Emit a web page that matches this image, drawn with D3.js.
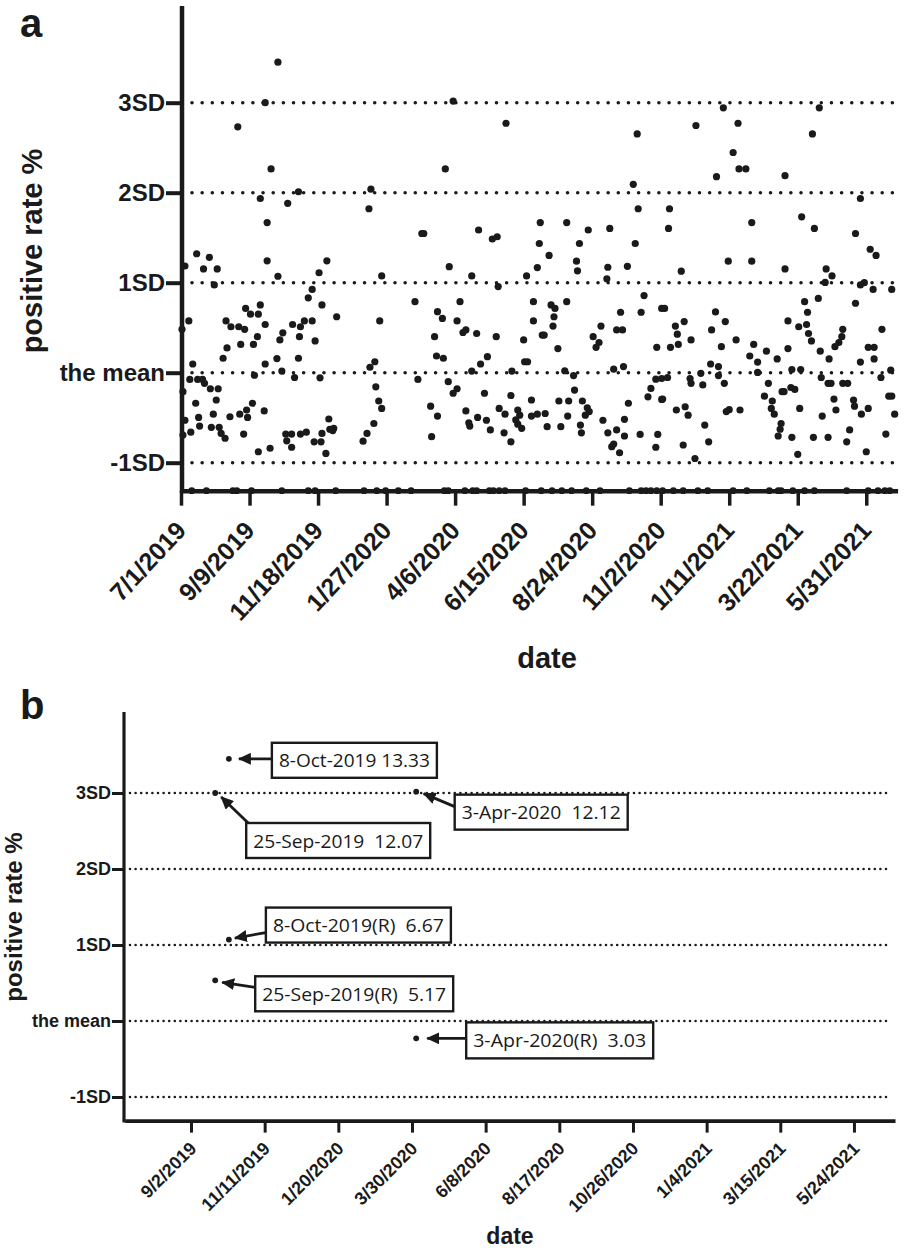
<!DOCTYPE html>
<html><head><meta charset="utf-8">
<script src="https://cdn.jsdelivr.net/npm/d3@7"></script>
<style>body{margin:0;background:#fff} svg{display:block}</style>
</head><body>
<svg id="chart" width="912" height="1250"></svg>
<script>
// ---------- DATA ----------
const MEAN = 3.67, SD = 2.8;               // positive rate %: mean and standard deviation
const sdLevels = [-1, 0, 1, 2, 3];
const sdLabels = ["-1SD", "the mean", "1SD", "2SD", "3SD"];
const startDate = "7/1/2019", endDate = "7/2/2021";
const ticksA = ["7/1/2019","9/9/2019","11/18/2019","1/27/2020","4/6/2020","6/15/2020","8/24/2020","11/2/2020","1/11/2021","3/22/2021","5/31/2021"];
const ticksB = ["9/2/2019","11/11/2019","1/20/2020","3/30/2020","6/8/2020","8/17/2020","10/26/2020","1/4/2021","3/15/2021","5/24/2021"];

// [days since 7/1/2019, positive rate %]
const jul2019toOct2019 = [[99,13.33],[86,12.07],[58,11.32],[92,10.01],[81,9.09],[109,8.94],[120,9.30],[88,8.34],[4,6.99],[16,7.37],[23,6.90],[29,7.26],[37,6.90],[34,6.40],[88,7.15],[99,6.67],[1,5.02],[8,5.28],[46,5.28],[51,5.10],[59,5.10],[65,5.02],[66,5.67],[71,5.49],[79,5.49],[81,5.78],[86,5.17],[78,4.79],[47,4.44],[43,4.12],[61,4.55],[74,4.55],[98,4.11],[101,4.69],[104,4.91],[114,5.17],[122,5.10],[121,4.79],[120,4.12],[12,3.94],[9,3.46],[17,3.46],[22,3.46],[24,3.34],[30,3.17],[38,3.17],[2,3.08],[75,3.59],[86,3.94],[103,3.72],[116,3.52],[15,2.72],[36,2.82],[18,2.28],[33,2.38],[4,2.19],[50,2.30],[60,2.38],[67,2.51],[68,2.28],[73,2.72],[85,2.48],[2,1.73],[10,1.82],[19,2.01],[31,1.97],[39,1.97],[41,1.78],[45,1.63],[64,1.76],[79,1.21],[91,1.32],[107,1.76],[113,1.76],[108,1.55],[113,1.35],[122,1.76]];
const nov2019toFeb2020 = [[194,9.38],[192,8.77],[246,8.00],[149,7.15],[141,6.78],[134,6.26],[130,6.00],[144,5.78],[159,5.41],[205,6.68],[203,5.28],[239,5.88],[126,5.28],[134,5.28],[137,4.66],[142,3.51],[193,3.84],[198,4.01],[199,3.23],[202,2.79],[205,2.56],[197,2.09],[190,1.78],[186,1.54],[242,3.46],[128,1.82],[136,1.52],[143,1.52],[144,1.78],[151,2.23],[152,1.91],[156,1.94],[155,1.87],[148,1.16]];
const mar2020toJun2020 = [[278,12.12],[332,11.43],[270,10.01],[248,8.00],[304,8.11],[318,7.83],[323,7.90],[367,8.34],[366,7.69],[274,6.97],[297,6.68],[324,6.35],[353,6.68],[364,6.94],[285,5.88],[360,5.88],[360,5.28],[369,4.84],[262,5.57],[267,5.36],[282,5.28],[288,4.92],[291,5.00],[302,4.89],[322,4.79],[350,4.69],[259,4.79],[261,4.19],[268,4.12],[306,3.94],[313,4.17],[351,4.01],[354,4.01],[297,3.72],[338,3.72],[273,3.39],[282,3.17],[278,3.03],[310,3.03],[337,2.96],[358,2.82],[255,2.63],[262,2.32],[256,1.68],[291,2.48],[303,2.28],[312,2.19],[295,2.01],[294,2.11],[316,1.89],[325,2.56],[331,2.38],[344,2.51],[346,2.35],[342,2.20],[344,2.07],[348,1.94],[330,1.80],[337,1.52],[358,2.32],[364,2.38]];
const jul2020toOct2020 = [[466,11.10],[462,9.53],[467,8.77],[394,8.34],[416,8.11],[438,8.16],[407,7.69],[464,7.69],[376,7.32],[404,7.14],[405,6.84],[436,6.95],[456,6.98],[435,6.59],[473,6.07],[378,5.78],[382,5.67],[394,5.88],[381,5.41],[380,5.12],[371,4.84],[385,4.42],[449,5.55],[470,5.55],[491,5.67],[429,5.12],[445,5.00],[451,5.00],[421,4.79],[427,4.61],[424,4.46],[486,4.46],[392,3.73],[401,3.58],[442,3.78],[452,3.86],[485,3.47],[480,3.18],[477,2.92],[491,2.84],[402,3.13],[386,2.79],[396,2.79],[410,2.79],[415,2.58],[417,2.46],[413,2.35],[395,2.32],[457,2.72],[372,2.40],[374,1.99],[388,1.99],[408,2.04],[409,1.80],[431,2.19],[436,1.80],[445,1.89],[453,2.22],[453,1.70],[442,1.45],[440,1.37],[448,1.18],[469,1.75],[487,1.75],[485,1.35]];
const nov2020toFeb2021 = [[554,11.91],[526,11.36],[569,11.43],[564,10.52],[570,10.01],[577,10.01],[547,9.77],[499,8.77],[498,8.16],[583,8.34],[559,7.14],[583,7.14],[511,6.83],[494,5.67],[505,5.12],[507,4.87],[514,5.26],[521,4.69],[508,4.55],[500,4.46],[546,5.56],[556,5.26],[542,5.00],[552,4.48],[567,4.69],[585,4.55],[598,4.34],[581,4.19],[589,4.00],[589,3.68],[609,4.10],[541,3.94],[549,3.86],[549,3.58],[491,3.49],[497,3.52],[520,3.49],[521,3.34],[531,3.65],[533,3.29],[555,3.34],[600,3.34],[614,3.08],[492,2.85],[596,2.94],[604,2.79],[603,2.56],[606,2.38],[506,2.51],[515,2.61],[518,2.35],[557,2.46],[560,2.52],[571,2.51],[535,2.04],[513,1.42],[539,1.52],[525,1.00],[613,2.09],[612,1.91],[610,1.70]];
const mar2021toJun2021 = [[652,11.91],[645,11.10],[617,9.80],[694,9.09],[634,8.52],[647,8.16],[689,8.00],[704,7.51],[710,7.32],[617,6.90],[659,6.90],[665,6.68],[658,6.48],[694,6.40],[698,6.47],[707,6.26],[726,6.26],[637,5.88],[651,5.98],[640,5.55],[689,5.83],[620,5.28],[631,5.10],[639,5.17],[641,4.89],[644,4.66],[676,5.02],[675,4.79],[672,4.61],[668,4.48],[716,5.02],[620,4.42],[653,4.34],[662,4.10],[702,4.46],[708,4.46],[708,4.10],[694,4.00],[624,3.77],[633,3.77],[654,3.52],[725,3.75],[715,3.52],[661,3.34],[664,3.34],[676,3.34],[681,3.34],[616,3.08],[623,3.21],[627,3.15],[667,2.85],[687,2.82],[688,2.63],[632,2.56],[669,2.51],[702,2.56],[695,2.38],[723,2.94],[726,2.94],[729,2.38],[655,2.32],[624,1.66],[646,1.66],[661,1.66],[683,1.89],[680,1.52],[720,1.76],[630,1.13],[700,1.21]];
// days with a positive rate of 0 %
const zeroDays = [11,26,53,57,72,103,130,137,158,187,200,209,222,235,269,273,290,298,302,315,319,325,331,352,368,379,389,399,414,428,458,470,475,480,486,492,503,513,528,538,564,578,601,610,613,625,637,647,680,702,712,719,724];

// panel b: outliers above 3SD and their retests (R)
const outlierDates = ["10/8/2019","9/25/2019","4/3/2020","10/8/2019","9/25/2019","4/3/2020"];
const outlierRates = [13.33, 12.07, 12.12, 6.67, 5.17, 3.03];
const outlierLabels = ["8-Oct-2019 13.33","25-Sep-2019  12.07","3-Apr-2020  12.12","8-Oct-2019(R)  6.67","25-Sep-2019(R)  5.17","3-Apr-2020(R)  3.03"];

// ---------- LAYOUT ----------
const FONT = "'Liberation Sans', Arial, Helvetica, sans-serif";
const INK = "#1a1a1a";
const svg = d3.select("#chart");
const parse = d3.timeParse("%m/%d/%Y");
const t0 = parse(startDate);
const domain = [t0, parse(endDate)];
const toDate = d => d3.timeDay.offset(t0, d);
const allPoints = [].concat(jul2019toOct2019, nov2019toFeb2020, mar2020toJun2020, jul2020toOct2020, nov2020toFeb2021, mar2021toJun2021);
const levelVals = sdLevels.map(k => MEAN + k * SD);

// ====== PANEL A ======
const xA = d3.scaleTime().domain(domain).range([181, 897.6]);
const yA = d3.scaleLinear().domain([MEAN - SD, MEAN + 3 * SD]).range([462.7, 102.7]);
const gA = svg.append("g");

gA.append("text").attr("x", 20).attr("y", 37).attr("font-family", FONT).attr("font-weight", "bold")
  .attr("font-size", 40).attr("fill", INK).text("a");

gA.selectAll("line.ref").data(levelVals).join("line").attr("class", "ref")
  .attr("x1", 192).attr("x2", 894).attr("y1", d => yA(d)).attr("y2", d => yA(d))
  .attr("stroke", INK).attr("stroke-width", 3.6).attr("stroke-linecap", "round")
  .attr("stroke-dasharray", "0,10.15");

gA.selectAll("circle.pt").data(allPoints).join("circle").attr("class", "pt")
  .attr("cx", d => xA(toDate(d[0]))).attr("cy", d => yA(d[1])).attr("r", 3.6).attr("fill", INK);

// x axis
const axA = gA.append("g").attr("transform", `translate(0,${yA(0)})`)
  .call(d3.axisBottom(xA).tickValues(ticksA.map(parse)).tickFormat((d, i) => ticksA[i]).tickSize(15).tickSizeOuter(0));
axA.select(".domain").attr("stroke", INK).attr("stroke-width", 4.5);
axA.selectAll(".tick line").attr("stroke", INK).attr("stroke-width", 3.5);
axA.selectAll(".tick text").attr("font-family", FONT).attr("font-weight", "bold").attr("font-size", 25)
  .attr("fill", INK).attr("text-anchor", "end").attr("x", 0).attr("y", 0).attr("dy", 0)
  .attr("transform", "translate(6,41) rotate(-47)");

gA.selectAll("circle.zero").data(zeroDays).join("circle").attr("class", "zero")
  .attr("cx", d => xA(toDate(d))).attr("cy", yA(0)).attr("r", 3.4).attr("fill", INK);

// y axis
const ayA = gA.append("g").attr("transform", "translate(182,0)")
  .call(d3.axisLeft(yA).tickValues(levelVals).tickFormat((d, i) => sdLabels[i]).tickSize(16).tickSizeOuter(0).tickPadding(1));
ayA.select(".domain").remove();
ayA.selectAll(".tick line").attr("stroke", INK).attr("stroke-width", 4);
ayA.selectAll(".tick text").attr("font-family", FONT).attr("font-weight", "bold").attr("font-size", 24).attr("fill", INK);
gA.append("line").attr("x1", 182).attr("x2", 182).attr("y1", 6).attr("y2", yA(0) + 2)
  .attr("stroke", INK).attr("stroke-width", 4.5);

gA.append("text").attr("transform", "translate(42,251) rotate(-90)").attr("text-anchor", "middle")
  .attr("font-family", FONT).attr("font-weight", "bold").attr("font-size", 29).attr("fill", INK)
  .text("positive rate %");
gA.append("text").attr("x", 547).attr("y", 668).attr("text-anchor", "middle")
  .attr("font-family", FONT).attr("font-weight", "bold").attr("font-size", 29).attr("fill", INK)
  .text("date");

// ====== PANEL B ======
const xB = d3.scaleTime().domain(domain).range([124.7, 895]);
const yB = d3.scaleLinear().domain([MEAN - SD, MEAN + 3 * SD]).range([1097, 793]);
const gB = svg.append("g");

gB.append("text").attr("x", 20).attr("y", 719).attr("font-family", FONT).attr("font-weight", "bold")
  .attr("font-size", 40).attr("fill", INK).text("b");

gB.selectAll("line.ref").data(levelVals).join("line").attr("class", "ref")
  .attr("x1", 130).attr("x2", 890).attr("y1", d => yB(d)).attr("y2", d => yB(d))
  .attr("stroke", INK).attr("stroke-width", 2.6).attr("stroke-linecap", "round")
  .attr("stroke-dasharray", "0,5.6");

const axB = gB.append("g").attr("transform", `translate(0,${yB(0)})`)
  .call(d3.axisBottom(xB).tickValues(ticksB.map(parse)).tickFormat((d, i) => ticksB[i]).tickSize(12).tickSizeOuter(0));
axB.select(".domain").attr("stroke", INK).attr("stroke-width", 3.8);
axB.selectAll(".tick line").attr("stroke", INK).attr("stroke-width", 3);
axB.selectAll(".tick text").attr("font-family", FONT).attr("font-weight", "bold").attr("font-size", 18)
  .attr("fill", INK).attr("text-anchor", "end").attr("x", 0).attr("y", 0).attr("dy", 0)
  .attr("transform", "translate(6,29) rotate(-45)");

const ayB = gB.append("g").attr("transform", "translate(124,0)")
  .call(d3.axisLeft(yB).tickValues(levelVals).tickFormat((d, i) => sdLabels[i]).tickSize(12).tickSizeOuter(0).tickPadding(1));
ayB.select(".domain").remove();
ayB.selectAll(".tick line").attr("stroke", INK).attr("stroke-width", 3);
ayB.selectAll(".tick text").attr("font-family", FONT).attr("font-weight", "bold").attr("font-size", 18).attr("fill", INK);
gB.append("line").attr("x1", 124).attr("x2", 124).attr("y1", 712).attr("y2", yB(0) + 2)
  .attr("stroke", INK).attr("stroke-width", 3.2);

gB.append("text").attr("transform", "translate(22,917) rotate(-90)").attr("text-anchor", "middle")
  .attr("font-family", FONT).attr("font-weight", "bold").attr("font-size", 24).attr("fill", INK)
  .text("positive rate %");
gB.append("text").attr("x", 510).attr("y", 1244).attr("text-anchor", "middle")
  .attr("font-family", FONT).attr("font-weight", "bold").attr("font-size", 23).attr("fill", INK)
  .text("date");

// points & annotations
const outliers = outlierDates.map((d, i) => ({ date: parse(d), rate: outlierRates[i], label: outlierLabels[i] }));
// box & arrow offsets relative to each point (px)
const annLayout = [
  { bx: 43, by: -16, bw: 165, bh: 35, ax: 43, ay: 0, tx: 10, ty: 0 },
  { bx: 31, by: 30, bw: 184, bh: 35, ax: 33, ay: 30, tx: 6, ty: 4 },
  { bx: 38.5, by: 3, bw: 173, bh: 35, ax: 38.5, ay: 15, tx: 7.5, ty: 2 },
  { bx: 37, by: -32, bw: 185, bh: 35, ax: 37, ay: -7, tx: 6, ty: -1.5 },
  { bx: 40, by: -4, bw: 198, bh: 35, ax: 40, ay: 7, tx: 7, ty: 2 },
  { bx: 50, by: -16, bw: 187, bh: 36, ax: 50, ay: 0, tx: 11, ty: 0 }
];
svg.append("defs").append("marker").attr("id", "arrow").attr("viewBox", "0 -6 13 12")
  .attr("refX", 12).attr("refY", 0).attr("markerUnits", "userSpaceOnUse")
  .attr("markerWidth", 13).attr("markerHeight", 12).attr("orient", "auto")
  .append("path").attr("d", "M0,-6L13,0L0,6Z").attr("fill", INK);

gB.selectAll("circle.out").data(outliers).join("circle").attr("class", "out")
  .attr("cx", d => xB(d.date)).attr("cy", d => yB(d.rate)).attr("r", 2.9).attr("fill", INK);

const ann = gB.selectAll("g.ann").data(outliers).join("g").attr("class", "ann")
  .attr("transform", d => `translate(${xB(d.date)},${yB(d.rate)})`);
ann.append("line").attr("x1", (d, i) => annLayout[i].ax).attr("y1", (d, i) => annLayout[i].ay)
  .attr("x2", (d, i) => annLayout[i].tx).attr("y2", (d, i) => annLayout[i].ty)
  .attr("stroke", INK).attr("stroke-width", 2.8).attr("marker-end", "url(#arrow)");
ann.append("rect").attr("x", (d, i) => annLayout[i].bx).attr("y", (d, i) => annLayout[i].by)
  .attr("width", (d, i) => annLayout[i].bw).attr("height", (d, i) => annLayout[i].bh)
  .attr("fill", "#fff").attr("stroke", INK).attr("stroke-width", 2.4);
ann.append("text").attr("x", (d, i) => annLayout[i].bx + annLayout[i].bw / 2)
  .attr("y", (d, i) => annLayout[i].by + annLayout[i].bh / 2 + 7)
  .attr("text-anchor", "middle").attr("font-family", "'Open Sans', 'Noto Sans', sans-serif")
  .attr("font-size", 19).attr("fill", INK).style("white-space", "pre")
  .attr("textLength", (d, i) => annLayout[i].bw - 14).attr("lengthAdjust", "spacingAndGlyphs")
  .text(d => d.label);
</script>
</body></html>
